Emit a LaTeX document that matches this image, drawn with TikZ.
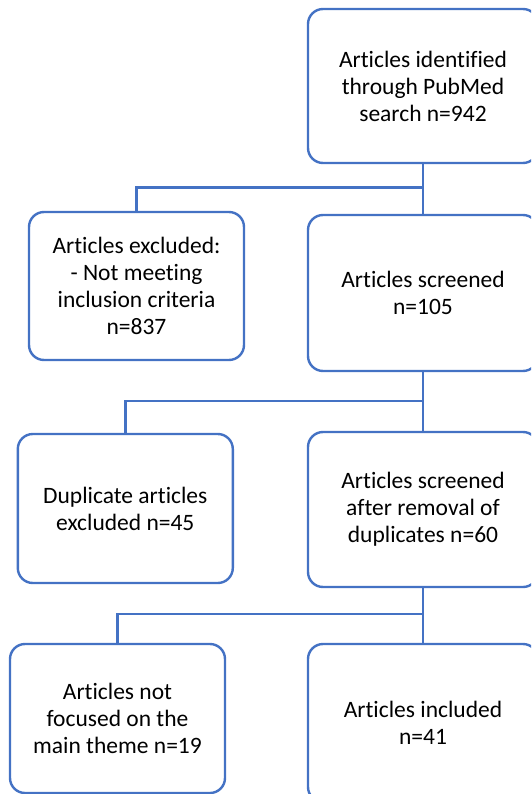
\documentclass[tikz,border=0pt]{standalone}
\usepackage{fontspec}
\setmainfont{Carlito}[Ligatures={NoCommon}]
\definecolor{boxblue}{HTML}{4472C4}
\begin{document}
\begin{tikzpicture}[x=1pt,y=-1pt,
  flowbox/.style={draw=boxblue,line width=2.4pt,rounded corners=15pt,fill=white,
    align=center,inner sep=2pt,font=\fontsize{23.5pt}{27pt}\selectfont},
  link/.style={draw=boxblue,line width=2.4pt}]
\useasboundingbox (0,0) rectangle (531,794);
\begin{scope}
\clip (0,0) rectangle (531,794);
\node[flowbox,minimum width=230pt,minimum height=154pt] (id) at (423,86)
  {Articles identified\\through PubMed\\search n=942};
\node[flowbox,minimum width=215pt,minimum height=148pt] (excl) at (136.5,286)
  {Articles excluded:\\- Not meeting\\inclusion criteria\\n=837};
\node[flowbox,minimum width=230pt,minimum height=156pt] (scr) at (423,293)
  {Articles screened\\n=105};
\node[flowbox,minimum width=215pt,minimum height=149pt] (dup) at (125.3,508.5)
  {Duplicate articles\\excluded n=45};
\node[flowbox,minimum width=230pt,minimum height=155pt] (after) at (423,509.5)
  {Articles screened\\after removal of\\duplicates n=60};
\node[flowbox,minimum width=215pt,minimum height=149pt] (nf) at (117.5,718.5)
  {Articles not\\focused on the\\main theme n=19};
\node[flowbox,minimum width=230pt,minimum height=158pt] (inc) at (423,723)
  {Articles included\\n=41};
\coordinate (j1) at (423,187.5);
\coordinate (j2) at (423,400.7);
\coordinate (j3) at (423,614);
\draw[link] (id.south) -- (scr.north);
\draw[link] (j1) -| (excl.north);
\draw[link] (scr.south) -- (after.north);
\draw[link] (j2) -| (dup.north);
\draw[link] (after.south) -- (inc.north);
\draw[link] (j3) -| (nf.north);
\end{scope}
\end{tikzpicture}
\end{document}
